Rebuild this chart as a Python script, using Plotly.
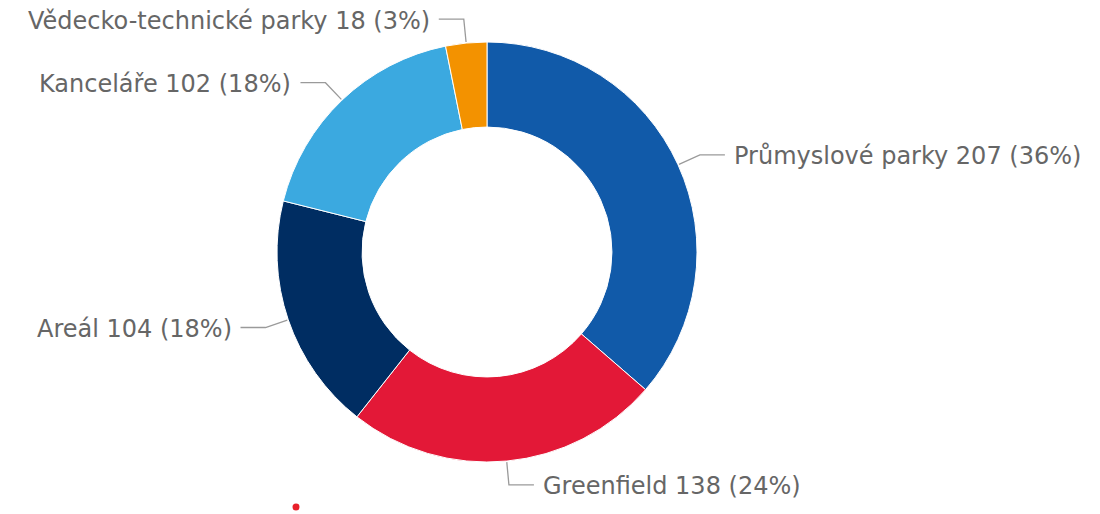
import math
import plotly.graph_objects as go

categories = ["Průmyslové parky", "Greenfield", "Areál", "Kanceláře", "Vědecko-technické parky"]
values = [207, 138, 104, 102, 18]
colors = ["#115aa9", "#e31837", "#002d62", "#3ba9e0", "#f39200"]

W, H = 1100, 514
OFF = 8  # default page body margin
CX, CY, R = 487, 252, 210
HOLE = 0.595

def px(x):
    return (x - OFF) / W

def py(y):
    return 1 - (y - OFF) / H

fig = go.Figure()
fig.add_trace(go.Pie(
    labels=categories, values=values, sort=False, direction="clockwise", rotation=0,
    hole=HOLE, textinfo="none", hoverinfo="label+value+percent",
    marker=dict(colors=colors, line=dict(color="#ffffff", width=1)),
    domain=dict(x=[px(CX - R), px(CX + R)], y=[py(CY + R), py(CY - R)]),
    showlegend=False,
))

total = sum(values)
cum = 0
shapes = []
annotations = []
for name, v in zip(categories, values):
    mid = (cum + v / 2) / total * 2 * math.pi
    cum += v
    s, c = math.sin(mid), math.cos(mid)
    x0, y0 = CX + (R + 1) * s, CY - (R + 1) * c
    x1, y1 = CX + (R + 24) * s, CY - (R + 24) * c
    side = 1 if s >= 0 else -1
    x2 = x1 + side * 25
    path = f"M {px(x0)},{py(y0)} L {px(x1)},{py(y1)} L {px(x2)},{py(y1)}"
    shapes.append(dict(type="path", path=path, xref="paper", yref="paper",
                       line=dict(color="#9a9a9a", width=1.3)))
    pct = round(v / total * 100)
    annotations.append(dict(
        x=px(x2 + side * 7), y=py(y1 + 1.5), xref="paper", yref="paper",
        text=f"{name} {v} ({pct}%)", showarrow=False,
        xanchor="left" if side > 0 else "right", yanchor="middle",
        font=dict(family="DejaVu Sans, Verdana, sans-serif", size=24, color="#666666"),
    ))

# small red marker dot at bottom
shapes.append(dict(type="circle", xref="paper", yref="paper",
                   x0=px(292.5), x1=px(299.5), y0=py(510.5), y1=py(503.5),
                   fillcolor="#e8202a", line=dict(width=0)))

fig.update_layout(
    width=W, height=H, margin=dict(l=0, r=0, t=0, b=0),
    paper_bgcolor="#ffffff", plot_bgcolor="#ffffff",
    shapes=shapes, annotations=annotations,
)

fig.write_html("out.html")
